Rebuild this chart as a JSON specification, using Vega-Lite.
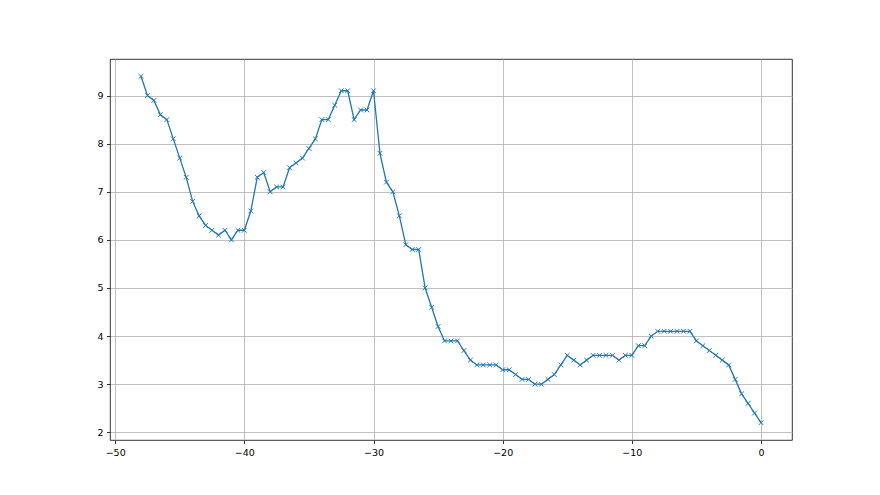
{
  "$schema": "https://vega.github.io/schema/vega-lite/v6.json",
  "autosize": "none",
  "width": 682,
  "height": 381,
  "padding": {"left": 110, "top": 59, "right": 88, "bottom": 55},
  "background": "white",
  "config": {
    "view": {"stroke": "#000", "strokeWidth": 0.8},
    "axis": {
      "domain": false,
      "grid": true,
      "gridColor": "#b0b0b0",
      "gridWidth": 0.8,
      "tickColor": "#000",
      "tickWidth": 0.8,
      "tickSize": 3.5,
      "labelPadding": 3.5,
      "labelFont": "DejaVu Sans",
      "labelFontSize": 9.5,
      "labelColor": "#000",
      "title": null
    }
  },
  "data": {
    "values": [
      {"x": -48, "y": 9.4}, {"x": -47.5, "y": 9.0}, {"x": -47, "y": 8.9}, {"x": -46.5, "y": 8.6},
      {"x": -46, "y": 8.5}, {"x": -45.5, "y": 8.1}, {"x": -45, "y": 7.7}, {"x": -44.5, "y": 7.3},
      {"x": -44, "y": 6.8}, {"x": -43.5, "y": 6.5}, {"x": -43, "y": 6.3}, {"x": -42.5, "y": 6.2},
      {"x": -42, "y": 6.1}, {"x": -41.5, "y": 6.2}, {"x": -41, "y": 6.0}, {"x": -40.5, "y": 6.2},
      {"x": -40, "y": 6.2}, {"x": -39.5, "y": 6.6}, {"x": -39, "y": 7.3}, {"x": -38.5, "y": 7.4},
      {"x": -38, "y": 7.0}, {"x": -37.5, "y": 7.1}, {"x": -37, "y": 7.1}, {"x": -36.5, "y": 7.5},
      {"x": -36, "y": 7.6}, {"x": -35.5, "y": 7.7}, {"x": -35, "y": 7.9}, {"x": -34.5, "y": 8.1},
      {"x": -34, "y": 8.5}, {"x": -33.5, "y": 8.5}, {"x": -33, "y": 8.8}, {"x": -32.5, "y": 9.1},
      {"x": -32, "y": 9.1}, {"x": -31.5, "y": 8.5}, {"x": -31, "y": 8.7}, {"x": -30.5, "y": 8.7},
      {"x": -30, "y": 9.1}, {"x": -29.5, "y": 7.8}, {"x": -29, "y": 7.2}, {"x": -28.5, "y": 7.0},
      {"x": -28, "y": 6.5}, {"x": -27.5, "y": 5.9}, {"x": -27, "y": 5.8}, {"x": -26.5, "y": 5.8},
      {"x": -26, "y": 5.0}, {"x": -25.5, "y": 4.6}, {"x": -25, "y": 4.2}, {"x": -24.5, "y": 3.9},
      {"x": -24, "y": 3.9}, {"x": -23.5, "y": 3.9}, {"x": -23, "y": 3.7}, {"x": -22.5, "y": 3.5},
      {"x": -22, "y": 3.4}, {"x": -21.5, "y": 3.4}, {"x": -21, "y": 3.4}, {"x": -20.5, "y": 3.4},
      {"x": -20, "y": 3.3}, {"x": -19.5, "y": 3.3}, {"x": -19, "y": 3.2}, {"x": -18.5, "y": 3.1},
      {"x": -18, "y": 3.1}, {"x": -17.5, "y": 3.0}, {"x": -17, "y": 3.0}, {"x": -16.5, "y": 3.1},
      {"x": -16, "y": 3.2}, {"x": -15.5, "y": 3.4}, {"x": -15, "y": 3.6}, {"x": -14.5, "y": 3.5},
      {"x": -14, "y": 3.4}, {"x": -13.5, "y": 3.5}, {"x": -13, "y": 3.6}, {"x": -12.5, "y": 3.6},
      {"x": -12, "y": 3.6}, {"x": -11.5, "y": 3.6}, {"x": -11, "y": 3.5}, {"x": -10.5, "y": 3.6},
      {"x": -10, "y": 3.6}, {"x": -9.5, "y": 3.8}, {"x": -9, "y": 3.8}, {"x": -8.5, "y": 4.0},
      {"x": -8, "y": 4.1}, {"x": -7.5, "y": 4.1}, {"x": -7, "y": 4.1}, {"x": -6.5, "y": 4.1},
      {"x": -6, "y": 4.1}, {"x": -5.5, "y": 4.1}, {"x": -5, "y": 3.9}, {"x": -4.5, "y": 3.8},
      {"x": -4, "y": 3.7}, {"x": -3.5, "y": 3.6}, {"x": -3, "y": 3.5}, {"x": -2.5, "y": 3.4},
      {"x": -2, "y": 3.1}, {"x": -1.5, "y": 2.8}, {"x": -1, "y": 2.6}, {"x": -0.5, "y": 2.4},
      {"x": 0, "y": 2.2}
    ]
  },
  "encoding": {
    "x": {
      "field": "x", "type": "quantitative",
      "scale": {"domain": [-50.4, 2.4], "nice": false, "zero": false},
      "axis": {"values": [-50, -40, -30, -20, -10, 0], "format": "d"}
    },
    "y": {
      "field": "y", "type": "quantitative",
      "scale": {"domain": [1.84, 9.76], "nice": false, "zero": false},
      "axis": {"values": [2, 3, 4, 5, 6, 7, 8, 9], "format": "d"}
    }
  },
  "layer": [
    {"mark": {"type": "line", "color": "#1f77b4", "strokeWidth": 1.3}},
    {"mark": {"type": "point", "shape": "M-1,-1L1,1M-1,1L1,-1", "filled": false, "stroke": "#1f77b4", "strokeWidth": 1, "size": 22, "opacity": 1}}
  ]
}
